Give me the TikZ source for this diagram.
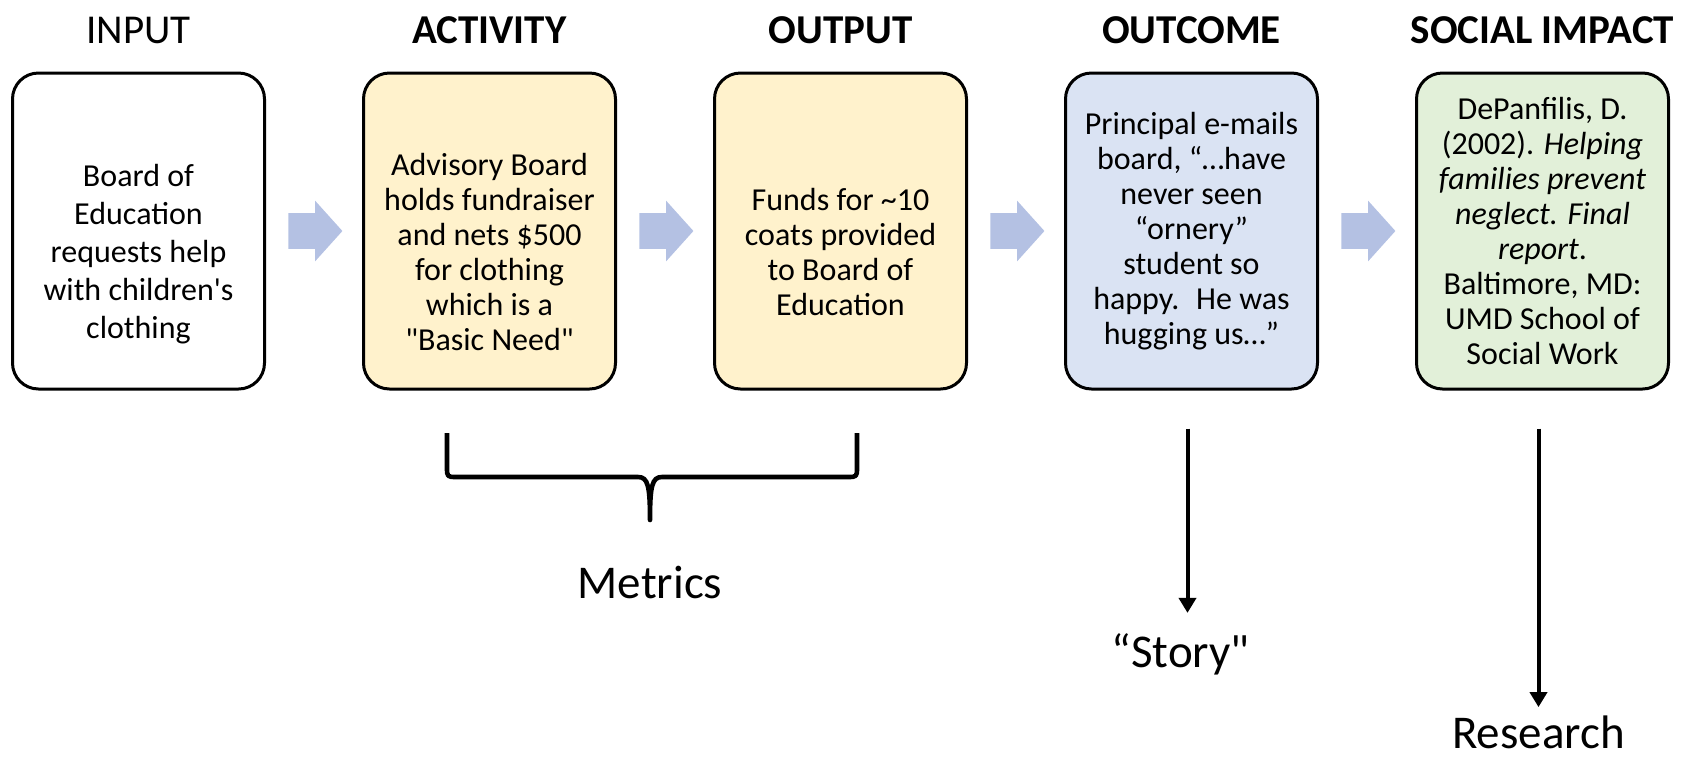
\documentclass[tikz,border=0pt]{standalone}
\usepackage{fontspec}
\newfontfamily\carlito{Carlito}
\usetikzlibrary{shapes,
                arrows.meta,
                positioning}
\definecolor{goldfill}{HTML}{FFF2CC}
\definecolor{bluefill}{HTML}{DAE3F3}
\definecolor{greenfill}{HTML}{E2F0D9}
\definecolor{flowblue}{HTML}{B4C1E3}
\tikzset{box/.style=
   {rectangle,
    draw,
    line width=1.5pt,
    rounded corners=13pt,
    align=center,
    minimum width=126pt,
    minimum height=158pt,
    font=\carlito\fontsize{16}{17.5}\selectfont}}
\tikzset{heading/.style={font=\carlito\fontsize{20.5}{24}\selectfont}}
\tikzset{note/.style={inner sep=0pt, font=\carlito\fontsize{23.5}{28}\selectfont}}
\tikzset{flow/.style=
   {single arrow,
    fill=flowblue,
    inner xsep=0pt,
    inner ysep=8.75pt,
    minimum height=27pt,
    single arrow head extend=6.25pt,
    single arrow tip angle=96}}
\tikzset{arrow/.style = {draw, line width=2pt, -{Triangle[length=7.5pt,width=8.5pt]}}}
\tikzset{bracket/.style = {draw, line width=2.3pt, line join=round}}
\newcommand{\topgap}{\mbox{}\\[15pt]}

\begin{document}
\begin{tikzpicture}[x=0.5pt, y=-0.5pt]
    \useasboundingbox (0,0) rectangle (1704,762);

    % Blocks
    \node [box, fill=white, font=\carlito\fontsize{16}{19}\selectfont] (input) at (138.5,231)
        {\topgap Board of\\Education\\requests help\\with children's\\clothing};
    \node [box, fill=goldfill, right of=input, node distance=175.5pt] (activity)
        {\topgap Advisory Board\\holds fundraiser\\and nets \$500\\for clothing\\which is a\\"Basic Need"};
    \node [box, fill=goldfill, right of=activity, node distance=175.5pt] (output)
        {\topgap Funds for \textasciitilde 10\\coats provided\\to Board of\\Education};
    \node [box, fill=bluefill, right of=output, node distance=175.5pt] (outcome)
        {Principal e-mails\\board, “…have\\never seen\\“ornery”\\student so\\happy.~ He was\\hugging us…”};
    \node [box, fill=greenfill, right of=outcome, node distance=175.5pt] (social)
        {DePanfilis, D.\\(2002). \textit{Helping}\\\textit{families prevent}\\\textit{neglect. Final}\\\textit{report}.\\Baltimore, MD:\\UMD School of\\Social Work};

    % Headings
    \node [heading, above of=input, node distance=100.5pt] (inputhead) {INPUT};
    \node [heading, above of=activity, node distance=100.5pt] (activityhead) {\textbf{ACTIVITY}};
    \node [heading, above of=output, node distance=100.5pt] (outputhead) {\textbf{OUTPUT}};
    \node [heading, above of=outcome, node distance=100.5pt] (outcomehead) {\textbf{OUTCOME}};
    \node [heading, above of=social, node distance=100.5pt] (socialhead) {\textbf{SOCIAL IMPACT}};

    % Flow between stages
    \node [flow, right=11pt of input] (flow1) {};
    \node [flow, right=11pt of activity] (flow2) {};
    \node [flow, right=11pt of output] (flow3) {};
    \node [flow, right=11pt of outcome] (flow4) {};

    % Measures below the stages
    \coordinate (bracetip) at (650,520);
    \path [bracket]
    (447,433) -- (447,467) .. controls (447,477) .. (457,477)
    -- (638,477) .. controls (648,477) and (650,486) .. (bracetip)
    .. controls (650,486) and (652,477) .. (662,477)
    -- (847,477) .. controls (857,477) .. (857,467) -- (857,433);
    \node [note, below=23pt of bracetip] (metrics) {Metrics};

    \node [note, below of=outcome, node distance=211.5pt, xshift=-5.5pt] (story) {“Story"};
    \path [arrow]
    ([xshift=-2pt, yshift=-19pt] outcome.south)
    -- ([xshift=3.5pt, yshift=10pt] story.north);

    \node [note, below of=social, node distance=250.5pt, xshift=-2pt] (research) {Research};
    \path [arrow]
    ([xshift=-2pt, yshift=-19pt] social.south)
    -- ([yshift=4pt] research.north);

\end{tikzpicture}
\end{document}
